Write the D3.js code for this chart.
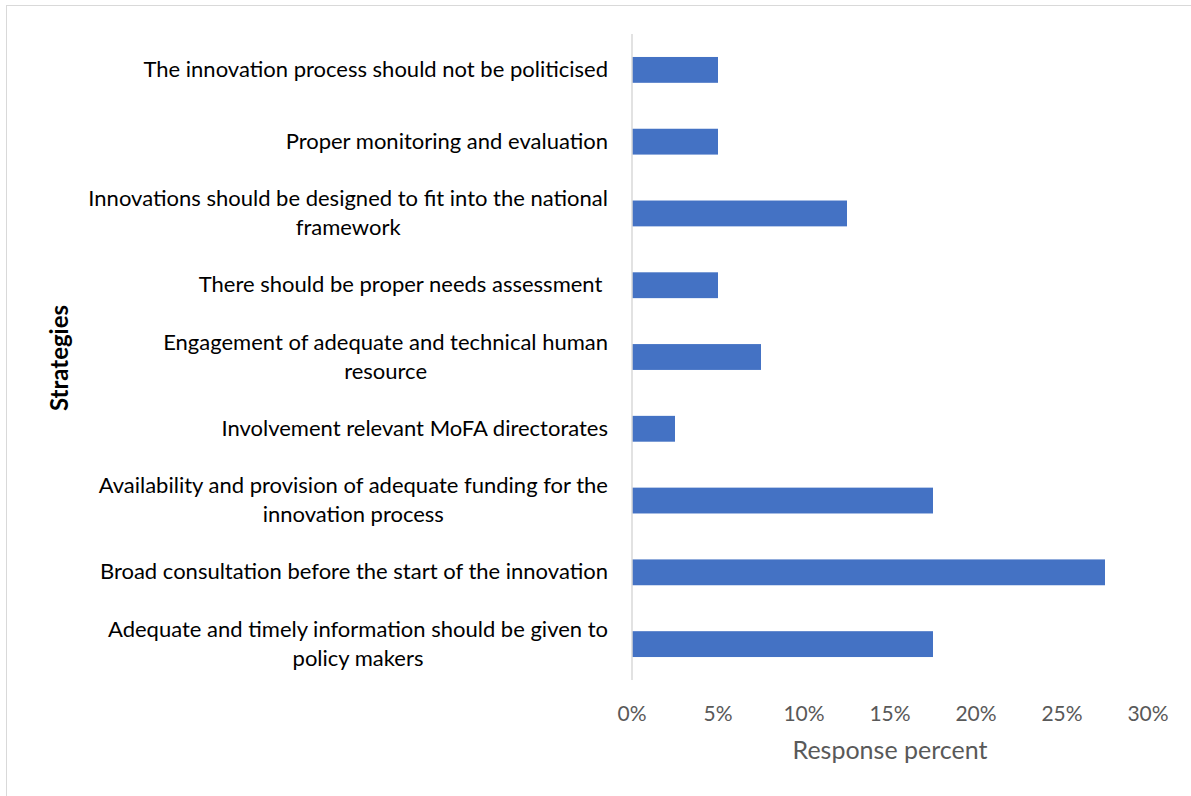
<!DOCTYPE html>
<html>
<head>
<meta charset="utf-8">
<script src="https://cdn.jsdelivr.net/npm/d3@7"></script>
<style>
  body { margin: 0; background: #fff; }
  text { font-family: Lato, "Open Sans", sans-serif; }
</style>
</head>
<body>
<script>
var W = 1191, H = 796;

// categories top to bottom, each split into its wrapped lines
var categories = [
  ["The innovation process should not be politicised"],
  ["Proper monitoring and evaluation"],
  ["Innovations should be designed to fit into the national", "framework"],
  ["There should be proper needs assessment "],
  ["Engagement of adequate and technical human", "resource"],
  ["Involvement relevant MoFA directorates"],
  ["Availability and provision of adequate funding for the", "innovation process"],
  ["Broad consultation before the start of the innovation"],
  ["Adequate and timely information should be given to", "policy makers"]
];
var values = [5, 5, 12.5, 5, 7.5, 2.5, 17.5, 27.5, 17.5];
var ticks = [0, 5, 10, 15, 20, 25, 30];

var svg = d3.select("body").append("svg")
  .attr("width", W).attr("height", H);

svg.append("rect")
  .attr("x", 6.5).attr("y", 5.5)
  .attr("width", W + 10).attr("height", H + 10)
  .attr("fill", "#fff").attr("stroke", "#d9d9d9").attr("stroke-width", 1);

var x = d3.scaleLinear().domain([0, 30]).range([632, 1148]);
var y = d3.scaleBand().domain(d3.range(categories.length))
  .range([34, 680]).paddingInner(0.64).paddingOuter(0.32);

svg.selectAll("rect.bar")
  .data(values)
  .enter().append("rect")
  .attr("class", "bar")
  .attr("x", x(0))
  .attr("y", function(d, i) { return y(i); })
  .attr("width", function(d) { return x(d) - x(0); })
  .attr("height", y.bandwidth())
  .attr("fill", "#4472c4");

// vertical axis line
svg.append("line")
  .attr("x1", x(0)).attr("x2", x(0))
  .attr("y1", 34).attr("y2", 680)
  .attr("stroke", "#d9d9d9").attr("stroke-width", 1.5);

// tick labels
svg.selectAll("text.tick")
  .data(ticks)
  .enter().append("text")
  .attr("class", "tick")
  .attr("x", function(d) { return x(d); })
  .attr("y", 721)
  .attr("text-anchor", "middle")
  .attr("font-size", 21)
  .attr("fill", "#595959")
  .text(function(d) { return d + "%"; });

// category labels
var lab = svg.selectAll("g.lab")
  .data(categories)
  .enter().append("g")
  .attr("class", "lab");

lab.each(function(lines, i) {
  var g = d3.select(this);
  var cy = y(i) + y.bandwidth() / 2;
  var n = lines.length;
  var ts = lines.map(function(l, k) {
    return g.append("text")
      .attr("y", cy + (k - (n - 1) / 2) * 29 + 7)
      .attr("font-size", 22)
      .attr("fill", "#000")
      .style("white-space", "pre")
      .text(l);
  });
  var maxW = d3.max(ts, function(t) { return t.node().getComputedTextLength(); });
  ts.forEach(function(t) {
    t.attr("x", 608 - maxW / 2).attr("text-anchor", "middle");
  });
});

svg.append("text")
  .attr("x", 890).attr("y", 759)
  .attr("text-anchor", "middle")
  .attr("font-size", 25)
  .attr("fill", "#595959")
  .text("Response percent");

svg.append("text")
  .attr("transform", "translate(68,358) rotate(-90)")
  .attr("text-anchor", "middle")
  .attr("font-size", 24)
  .attr("font-weight", "bold")
  .attr("fill", "#000")
  .text("Strategies");
</script>
</body>
</html>
